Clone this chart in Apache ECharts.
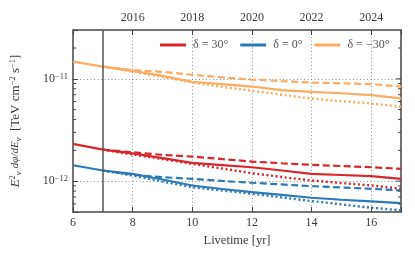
<!DOCTYPE html>
<html>
<head>
<meta charset="utf-8">
<script src="https://cdn.jsdelivr.net/npm/echarts@6/dist/echarts.min.js"></script>
<style>html,body{margin:0;padding:0;background:#fff;}#c{width:415px;height:260px;}</style>
</head>
<body>
<div id="c"></div>
<script>
// ---- data ----
const xSolid = [6, 7, 8, 9, 10, 11, 12, 13, 14, 15, 16, 17];
const xProj = [7, 8, 9, 10, 11, 12, 13, 14, 15, 16, 17];

const red30Solid = [2.313e-12, 2.035e-12, 1.873e-12, 1.683e-12, 1.51e-12, 1.438e-12, 1.369e-12, 1.271e-12, 1.18e-12, 1.149e-12, 1.119e-12, 1.055e-12];
const red30Dashed = [2.035e-12, 1.915e-12, 1.807e-12, 1.74e-12, 1.645e-12, 1.556e-12, 1.497e-12, 1.444e-12, 1.406e-12, 1.369e-12, 1.32e-12];
const red30Dotted = [2.035e-12, 1.82e-12, 1.645e-12, 1.477e-12, 1.33e-12, 1.197e-12, 1.099e-12, 1.016e-12, 0.96e-12, 0.908e-12, 0.843e-12];

const blue0Solid = [1.432e-12, 1.271e-12, 1.18e-12, 1.039e-12, 0.908e-12, 0.839e-12, 0.781e-12, 0.734e-12, 0.689e-12, 0.659e-12, 0.634e-12, 0.611e-12];
const blue0Dashed = [1.271e-12, 1.154e-12, 1.094e-12, 1.055e-12, 1.005e-12, 0.965e-12, 0.929e-12, 0.894e-12, 0.869e-12, 0.843e-12, 0.811e-12];
const blue0Dotted = [1.271e-12, 1.136e-12, 0.993e-12, 0.874e-12, 0.811e-12, 0.754e-12, 0.694e-12, 0.639e-12, 0.593e-12, 0.551e-12, 0.519e-12];

const orangeM30Solid = [1.474e-11, 1.318e-11, 1.196e-11, 1.07e-11, 0.935e-11, 0.888e-11, 0.841e-11, 0.776e-11, 0.747e-11, 0.723e-11, 0.694e-11, 0.643e-11];
const orangeM30Dashed = [1.318e-11, 1.215e-11, 1.17e-11, 1.094e-11, 1.034e-11, 0.984e-11, 0.95e-11, 0.92e-11, 0.904e-11, 0.888e-11, 0.841e-11];
const orangeM30Dotted = [1.318e-11, 1.18e-11, 1.046e-11, 0.92e-11, 0.836e-11, 0.764e-11, 0.699e-11, 0.643e-11, 0.604e-11, 0.575e-11, 0.534e-11];

const legendNames = ['δ = 30°', 'δ = 0°', 'δ = −30°'];
const bottomTicks = [6, 8, 10, 12, 14, 16];
const topTickPos = [8, 10, 12, 14, 16];
const topYears = ['2016', '2018', '2020', '2022', '2024'];
const yTickExps = [-12, -11];
const yMinorTicks = [6e-13, 7e-13, 8e-13, 9e-13, 2e-12, 3e-12, 4e-12, 5e-12, 6e-12, 7e-12, 8e-12, 9e-12, 2e-11];
const markerYear = 7;
const xMin = 6, xMax = 17, yMin = 5e-13, yMax = 3e-11;

// ---- styles ----
const FONT = 'Liberation Serif';
const TXT = '#3a3a3a';
const AX = '#444';
const C_RED = '#d7262b', C_BLUE = '#2a7ab8', C_ORANGE = '#fdab5e';
const DASH = [7, 3.5], DOT = [2, 2.6];

function pairs(xs, ys) { return xs.map((x, i) => [x, ys[i]]); }
function lineSeries(name, xs, ys, color, type, z, w) {
  return {
    name: name, type: 'line', data: pairs(xs, ys), symbol: 'none', smooth: false,
    lineStyle: { color: color, width: w || 2.2, type: type, cap: 'butt' },
    itemStyle: { color: color }, z: z, animation: false, silent: true
  };
}

const chart = echarts.init(document.getElementById('c'), null, { renderer: 'canvas' });

const series = [
  lineSeries(legendNames[0], xSolid, red30Solid, C_RED, 'solid', 5),
  lineSeries('r_dash', xProj, red30Dashed, C_RED, DASH, 4),
  lineSeries('r_dot', xProj, red30Dotted, C_RED, DOT, 4, 2.4),
  lineSeries(legendNames[1], xSolid, blue0Solid, C_BLUE, 'solid', 5),
  lineSeries('b_dash', xProj, blue0Dashed, C_BLUE, DASH, 4),
  lineSeries('b_dot', xProj, blue0Dotted, C_BLUE, DOT, 4, 2.4),
  lineSeries(legendNames[2], xSolid, orangeM30Solid, C_ORANGE, 'solid', 5),
  lineSeries('o_dash', xProj, orangeM30Dashed, C_ORANGE, DASH, 4),
  lineSeries('o_dot', xProj, orangeM30Dotted, C_ORANGE, DOT, 4, 2.4)
];
series[0].markLine = {
  silent: true, symbol: 'none', label: { show: false },
  lineStyle: { color: '#555', width: 1.5, type: 'solid' },
  data: [{ xAxis: markerYear }], z: 6, animation: false
};
// y minor + right-side ticks
const allYTicks = yMinorTicks.map(v => [xMin, v, 0]).concat(yTickExps.map(e => [xMin, Math.pow(10, e), 1]));
series.push({
  type: 'custom', silent: true, animation: false, z: 10, clip: false,
  data: allYTicks,
  renderItem: function (params, api) {
    const v = api.value(1), major = api.value(2);
    const pl = api.coord([xMin, v]);
    const pr = api.coord([xMax, v]);
    const len = major ? 5 : 3;
    const st = { stroke: AX, lineWidth: 1 };
    const kids = [{ type: 'line', shape: { x1: pr[0], y1: pr[1], x2: pr[0] - len, y2: pr[1] }, style: st }];
    if (!major) kids.push({ type: 'line', shape: { x1: pl[0], y1: pl[1], x2: pl[0] + len, y2: pl[1] }, style: st });
    return { type: 'group', children: kids };
  }
});

const supStyle = { fontFamily: FONT, fontSize: 8.5, color: TXT, verticalAlign: 'top', lineHeight: 15 };
const option = {
  backgroundColor: '#fff',
  animation: false,
  grid: { left: 72, right: 14, top: 30, bottom: 48, show: true, borderColor: AX, borderWidth: 1.5, backgroundColor: 'transparent', containLabel: false },
  legend: {
    data: legendNames.map((n, i) => ({ name: n, icon: 'rect' })),
    left: 155, top: 34, itemWidth: 26, itemHeight: 3, itemGap: 12,
    selectedMode: false,
    textStyle: { fontFamily: FONT, fontSize: 12, color: '#555', padding: [0, 0, 0, 2] }
  },
  xAxis: [
    {
      type: 'value', position: 'bottom', min: xMin, max: xMax, interval: 2,
      name: 'Livetime [yr]', nameLocation: 'middle', nameGap: 20,
      nameTextStyle: { fontFamily: FONT, fontSize: 12.5, color: TXT },
      axisLine: { show: false },
      axisTick: { show: true, inside: true, length: 5, lineStyle: { color: AX, width: 1 } },
      axisLabel: {
        fontFamily: FONT, fontSize: 12, color: TXT, margin: 5,
        formatter: v => (bottomTicks.indexOf(v) >= 0 ? String(v) : '')
      },
      splitLine: { show: true, lineStyle: { color: '#777', width: 0.8, type: [1, 2.5] } }
    },
    {
      type: 'value', position: 'top', min: xMin, max: xMax, interval: 2,
      axisLine: { show: false },
      axisTick: { show: true, inside: true, length: 5, lineStyle: { color: AX, width: 1 } },
      axisLabel: {
        fontFamily: FONT, fontSize: 12, color: TXT, margin: 6,
        formatter: v => { const i = topTickPos.indexOf(v); return i >= 0 ? topYears[i] : ''; }
      },
      splitLine: { show: false }
    }
  ],
  yAxis: {
    type: 'log', logBase: 10, min: yMin, max: yMax,
    name: '{it|E}{sp|2}{sb|ν} {fr|dφ/dE}{sb|ν}  [TeV cm{sp|−2} s{sp|−1}]',
    nameLocation: 'middle', nameRotate: 90, nameGap: 50,
    nameTextStyle: {
      fontFamily: FONT, fontSize: 13, color: TXT, lineHeight: 15,
      rich: {
        it: { fontFamily: FONT, fontSize: 13, fontStyle: 'italic', color: TXT, lineHeight: 15 },
        sp: supStyle,
        sb: { fontFamily: FONT, fontSize: 8.5, fontStyle: 'italic', color: TXT, verticalAlign: 'bottom', lineHeight: 15 },
        fr: { fontFamily: FONT, fontSize: 11, fontStyle: 'italic', color: TXT, lineHeight: 15 }
      }
    },
    axisLine: { show: false },
    axisTick: { show: true, inside: true, length: 5, lineStyle: { color: AX, width: 1 } },
    axisLabel: {
      fontFamily: FONT, fontSize: 12, color: TXT, margin: 5,
      formatter: v => {
        const e = Math.round(Math.log10(v));
        if (Math.abs(Math.log10(v) - e) > 1e-6 || yTickExps.indexOf(e) < 0) return '';
        return '10{sp|' + String(e).replace('-', '−') + '}';
      },
      rich: { sp: { fontFamily: FONT, fontSize: 8.5, color: TXT, verticalAlign: 'top', lineHeight: 14, padding: [0, 0, 6, 0] } }
    },
    splitLine: { show: true, lineStyle: { color: '#777', width: 0.8, type: [1, 2.5] } }
  },
  series: series
};
chart.setOption(option);
</script>
</body>
</html>
